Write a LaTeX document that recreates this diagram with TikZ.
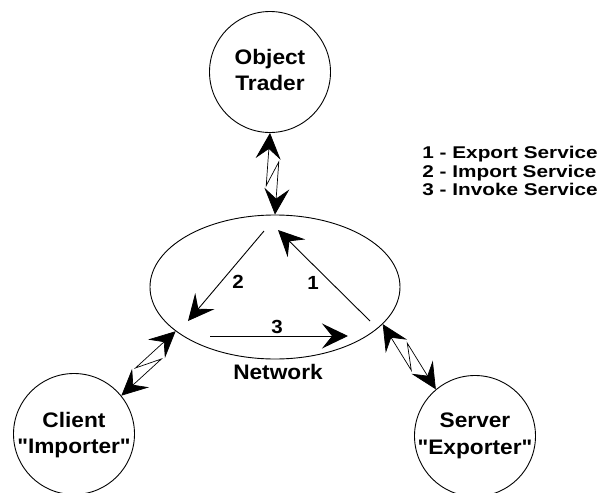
\documentclass[tikz,border=0pt]{standalone}
\usepackage{fontspec}
\setmainfont{Liberation Sans}
\newfontfamily\namefont{Liberation Sans}[FakeStretch=1.08]
\newfontfamily\keyfont{Liberation Sans}[FakeStretch=1.22]
\usetikzlibrary{shapes.geometric,arrows.meta,calc}

\tikzset{
	station/.style={draw, circle, minimum size=121pt, inner sep=0pt},
	stationtext/.style={font=\namefont\bfseries\fontsize{21}{26.5}\selectfont, align=center, inner sep=0pt},
	numtext/.style={font=\namefont\bfseries\fontsize{19}{19}\selectfont, inner sep=0pt},
	bigtip/.tip={Stealth[length=26pt,width=25pt,inset=10pt]},
	flow/.style={-bigtip},
	zap/.style={line width=0.7pt, bigtip-bigtip, line join=miter}
}

\begin{document}
\begin{tikzpicture}[x=1pt,y=-1pt,line width=0.9pt]
\useasboundingbox (0,0) rectangle (603,493);

\node[station] (trader) at (270,72) {};
\node[station] (client) at (74,434) {};
\node[station] (server) at (475,436) {};
\node[draw, ellipse, minimum width=250pt, minimum height=144pt, inner sep=0pt] (net) at (275,287) {};

\node[stationtext] (trader-text) at (270,70) {Object\\Trader};
\node[stationtext] (client-text) at (74,435) {Client\\"Importer"};
\node[stationtext] (server-text) at (475,436) {Server\\"Exporter"};
\node[stationtext, anchor=base] (net-text) at (278,379) {Network};

% legend
\node[font=\keyfont\bfseries\fontsize{17}{18.5}\selectfont, align=left, anchor=north west, inner sep=0pt] (key) at (422,145.8)
	{1 - Export Service\\2 - Import Service\\3 - Invoke Service};

% links to the network, drawn as zigzag double arrows
\foreach \a/\b in {trader.270/net.90, net.204/client.39, net.341/server.130} {
	\draw[zap] (\a) -- ($(\a)!0.64!(\b)!7pt!-90:(\b)$) -- ($(\a)!0.36!(\b)!7pt!90:(\b)$) -- (\b);
}

% service steps inside the network
\coordinate (exp-from) at (370,321);
\coordinate (exp-to) at (278,230);
\coordinate (imp-from) at (264,231);
\coordinate (imp-to) at (188,321);
\coordinate (inv-from) at (210,336);
\coordinate (inv-to) at (348,336);
\draw[flow] (exp-from) -- (exp-to);
\draw[flow] (imp-from) -- (imp-to);
\draw[flow] (inv-from) -- (inv-to);
\node[numtext] (one) at (313,283) {1};
\node[numtext] (two) at (238,282) {2};
\node[numtext] (three) at (277,327) {3};

\end{tikzpicture}
\end{document}
